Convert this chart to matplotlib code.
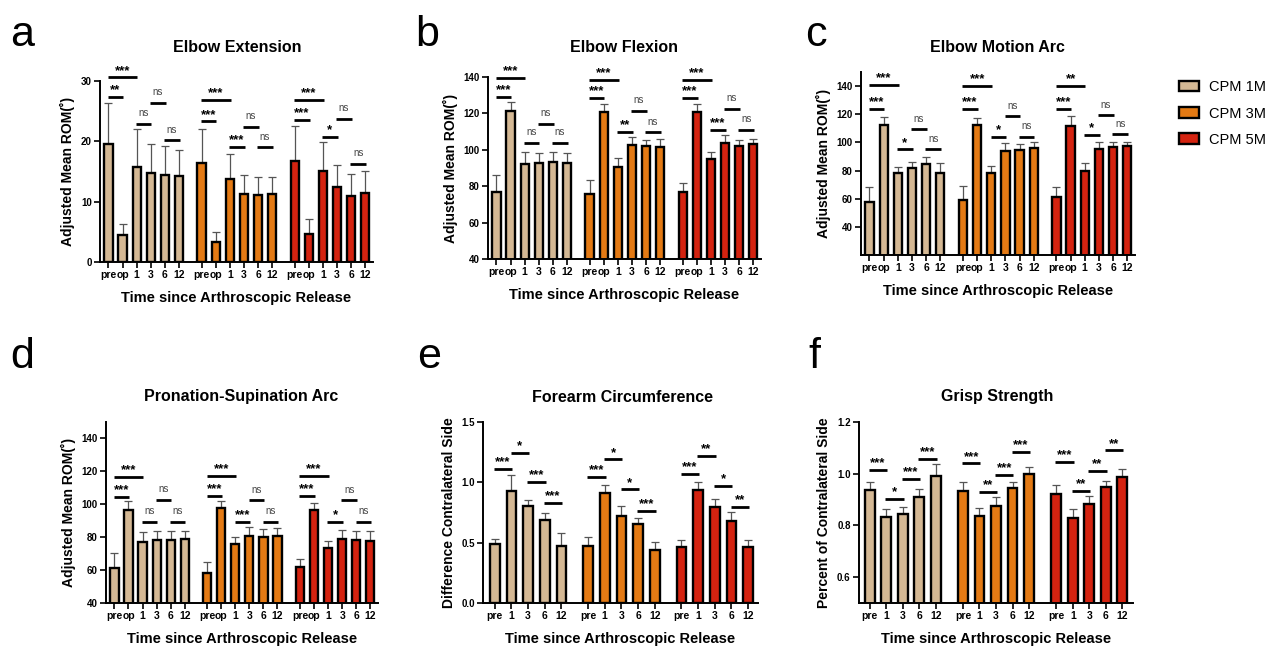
import matplotlib
matplotlib.use("Agg")
import matplotlib.pyplot as plt
from matplotlib.patches import Patch
import numpy as np

plt.rcParams['font.family'] = ['Liberation Sans', 'DejaVu Sans']

W, H = 1273, 649

groups = ["CPM 1M", "CPM 3M", "CPM 5M"]
colors = ["#D4B894", "#E47A14", "#D42310"]

labels6 = ["pre", "op", "1", "3", "6", "12"]
labels5 = ["pre", "1", "3", "6", "12"]

# ---- a: Elbow Extension ----
ext_mean = [[19.6, 4.4, 15.8, 14.7, 14.4, 14.2],
            [16.4, 3.3, 13.7, 11.2, 11.1, 11.3],
            [16.8, 4.6, 15.0, 12.4, 11.0, 11.4]]
ext_top = [[26.4, 6.3, 22.0, 19.5, 19.2, 18.5],
           [22.1, 4.9, 17.9, 14.5, 14.1, 14.1],
           [22.6, 7.1, 19.9, 16.1, 14.6, 15.0]]
ext_sig = [(0, 0, 1, 27.4, "**"), (0, 0, 2, 30.6, "***"), (0, 2, 3, 22.9, "ns"),
           (0, 3, 4, 26.4, "ns"), (0, 4, 5, 20.2, "ns"),
           (1, 0, 1, 23.3, "***"), (1, 0, 2, 26.9, "***"), (1, 2, 3, 19.1, "***"),
           (1, 3, 4, 22.4, "ns"), (1, 4, 5, 19.0, "ns"),
           (2, 0, 1, 23.5, "***"), (2, 0, 2, 26.9, "***"), (2, 2, 3, 20.8, "*"),
           (2, 3, 4, 23.7, "ns"), (2, 4, 5, 16.3, "ns")]

# ---- b: Elbow Flexion ----
flex_mean = [[77.0, 121.5, 92.0, 93.0, 93.5, 93.0],
             [75.5, 121.0, 90.5, 102.5, 102.0, 101.5],
             [77.0, 121.0, 95.0, 103.5, 102.0, 103.0]]
flex_top = [[86.0, 126.0, 99.0, 98.0, 99.0, 98.5],
            [83.5, 125.0, 95.5, 107.0, 105.5, 106.0],
            [82.0, 125.0, 99.0, 108.0, 105.5, 106.0]]
flex_sig = [(0, 0, 1, 129.0, "***"), (0, 0, 2, 139.5, "***"), (0, 2, 3, 104.0, "ns"),
            (0, 3, 4, 114.4, "ns"), (0, 4, 5, 104.0, "ns"),
            (1, 0, 1, 128.5, "***"), (1, 0, 2, 138.5, "***"), (1, 2, 3, 109.6, "**"),
            (1, 3, 4, 121.5, "ns"), (1, 4, 5, 109.6, "ns"),
            (2, 0, 1, 128.5, "***"), (2, 0, 2, 138.5, "***"), (2, 2, 3, 111.0, "***"),
            (2, 3, 4, 122.4, "ns"), (2, 4, 5, 111.0, "ns")]

# ---- c: Elbow Motion Arc ----
arc_mean = [[57.8, 112.7, 78.4, 82.0, 84.5, 78.4],
            [59.0, 112.7, 78.6, 94.0, 94.5, 96.0],
            [60.9, 111.3, 79.8, 95.5, 96.9, 97.3]]
arc_top = [[68.4, 117.7, 82.7, 86.2, 89.8, 85.5],
           [69.0, 117.0, 83.0, 99.7, 99.2, 100.0],
           [68.0, 118.7, 85.0, 100.0, 100.4, 100.0]]
arc_sig = [(0, 0, 1, 123.9, "***"), (0, 0, 2, 140.7, "***"), (0, 2, 3, 95.0, "*"),
           (0, 3, 4, 109.4, "ns"), (0, 4, 5, 95.2, "ns"),
           (1, 0, 1, 123.9, "***"), (1, 0, 2, 140.0, "***"), (1, 2, 3, 104.0, "*"),
           (1, 3, 4, 118.7, "ns"), (1, 4, 5, 104.0, "ns"),
           (2, 0, 1, 123.9, "***"), (2, 0, 2, 140.0, "**"), (2, 2, 3, 105.0, "*"),
           (2, 3, 4, 119.4, "ns"), (2, 4, 5, 105.9, "ns")]

# ---- d: Pronation-Supination Arc ----
ps_mean = [[61.1, 96.7, 77.0, 78.0, 78.5, 79.0],
           [58.0, 97.5, 76.0, 80.5, 80.0, 81.0],
           [62.0, 96.5, 73.5, 79.0, 78.0, 77.5]]
ps_top = [[70.2, 101.8, 82.9, 83.5, 83.5, 83.5],
          [65.0, 102.0, 80.0, 86.0, 85.0, 85.5],
          [67.0, 101.0, 77.5, 84.5, 84.0, 83.5]]
ps_sig = [(0, 0, 1, 104.4, "***"), (0, 0, 2, 116.5, "***"), (0, 2, 3, 89.3, "ns"),
          (0, 3, 4, 102.8, "ns"), (0, 4, 5, 89.3, "ns"),
          (1, 0, 1, 105.0, "***"), (1, 0, 2, 117.0, "***"), (1, 2, 3, 89.3, "***"),
          (1, 3, 4, 102.4, "ns"), (1, 4, 5, 89.3, "ns"),
          (2, 0, 1, 105.0, "***"), (2, 0, 2, 117.0, "***"), (2, 2, 3, 89.3, "*"),
          (2, 3, 4, 102.4, "ns"), (2, 4, 5, 89.3, "ns")]

# ---- e: Forearm Circumference ----
fc_mean = [[0.487, 0.93, 0.807, 0.685, 0.473],
           [0.476, 0.908, 0.724, 0.652, 0.443],
           [0.468, 0.939, 0.798, 0.680, 0.460]]
fc_top = [[0.53, 1.057, 0.853, 0.75, 0.583],
          [0.55, 0.98, 0.807, 0.707, 0.504],
          [0.523, 1.005, 0.862, 0.754, 0.523]]
fc_sig = [(0, 0, 1, 1.109, "***"), (0, 1, 2, 1.247, "*"), (0, 2, 3, 1.005, "***"), (0, 3, 4, 0.826, "***"),
          (1, 0, 1, 1.043, "***"), (1, 1, 2, 1.19, "*"), (1, 2, 3, 0.941, "*"), (1, 3, 4, 0.762, "***"),
          (2, 0, 1, 1.073, "***"), (2, 1, 2, 1.219, "**"), (2, 2, 3, 0.972, "*"), (2, 3, 4, 0.793, "**")]

# ---- f: Grisp Strength ----
gs_mean = [[0.937, 0.832, 0.846, 0.910, 0.992],
           [0.933, 0.837, 0.874, 0.944, 1.000],
           [0.922, 0.828, 0.881, 0.950, 0.988]]
gs_top = [[0.969, 0.864, 0.873, 0.940, 1.036],
          [0.969, 0.867, 0.910, 0.969, 1.027],
          [0.956, 0.864, 0.913, 0.973, 1.017]]
gs_sig = [(0, 0, 1, 1.014, "***"), (0, 1, 2, 0.903, "*"), (0, 2, 3, 0.979, "***"), (0, 3, 4, 1.058, "***"),
          (1, 0, 1, 1.040, "***"), (1, 1, 2, 0.930, "**"), (1, 2, 3, 0.995, "***"), (1, 3, 4, 1.083, "***"),
          (2, 0, 1, 1.044, "***"), (2, 1, 2, 0.933, "**"), (2, 2, 3, 1.010, "**"), (2, 3, 4, 1.090, "**")]

fig = plt.figure(figsize=(W / 100, H / 100), dpi=100)


def make_ax(l, r, t, b):
    return fig.add_axes([l / W, 1 - b / H, (r - l) / W, (b - t) / H])


def panel(ax, means, tops, sigs, labels, gstep, pad_l, pad_r, ylim, yticks,
          ylabel, ytickfmt):
    n = len(labels)
    xs_all, lab_all = [], []
    for g in range(3):
        x = np.arange(n) + g * gstep
        m = np.array(means[g])
        e = np.array(tops[g]) - m
        ax.bar(x, m, width=0.58, color=colors[g], edgecolor="black",
               linewidth=1.7, zorder=2)
        ax.errorbar(x, m, yerr=[np.zeros_like(e), e], fmt="none",
                    ecolor="#555555", elinewidth=0.9, capsize=2.6,
                    capthick=0.9, zorder=1)
        xs_all.extend(x)
        lab_all.extend(labels)
    for (g, i, j, y, s) in sigs:
        x1 = i + g * gstep
        x2 = j + g * gstep
        ax.plot([x1 - 0.05, x2 + 0.05], [y, y], color="black", lw=2.0,
                clip_on=False, solid_capstyle="butt", zorder=3)
        if s == "ns":
            ax.annotate(s, ((x1 + x2) / 2, y), xytext=(0, 4),
                        textcoords="offset points", ha="center", va="bottom",
                        fontsize=7, color="#444444", annotation_clip=False)
        else:
            ax.annotate(s, ((x1 + x2) / 2, y), xytext=(0, 0.5),
                        textcoords="offset points", ha="center", va="bottom",
                        fontsize=9.5, fontweight="bold", color="black",
                        annotation_clip=False)
    ax.set_xlim(-pad_l, 2 * gstep + n - 1 + pad_r)
    ax.set_ylim(*ylim)
    ax.set_yticks(yticks)
    ax.set_yticklabels([ytickfmt.format(v) for v in yticks],
                       fontsize=7, fontweight="bold")
    ax.set_xticks(xs_all)
    ax.set_xticklabels(lab_all, fontsize=7.5, fontweight="bold")
    ax.spines["top"].set_visible(False)
    ax.spines["right"].set_visible(False)
    ax.spines["left"].set_linewidth(1.4)
    ax.spines["bottom"].set_linewidth(1.4)
    ax.tick_params(axis="both", width=1.2, length=4, pad=2)
    ax.set_ylabel(ylabel, fontsize=10, fontweight="bold", labelpad=4)
    ax.set_xlabel("Time since Arthroscopic Release", fontsize=10.5,
                  fontweight="bold", labelpad=8)


ax_a = make_ax(100, 373, 81, 262)
panel(ax_a, ext_mean, ext_top, ext_sig, labels6, 6.6, 0.6, 0.55, (0, 30),
      [0, 10, 20, 30], "Adjusted Mean ROM(˚)", "{:.0f}")

ax_b = make_ax(488, 761, 77, 259)
panel(ax_b, flex_mean, flex_top, flex_sig, labels6, 6.6, 0.6, 0.55, (40, 140),
      [40, 60, 80, 100, 120, 140], "Adjusted Mean ROM(˚)", "{:.0f}")

ax_c = make_ax(861, 1135, 72, 255)
panel(ax_c, arc_mean, arc_top, arc_sig, labels6, 6.6, 0.6, 0.55, (20, 150),
      [40, 60, 80, 100, 120, 140], "Adjusted Mean ROM(˚)", "{:.0f}")

ax_d = make_ax(106, 378, 422, 603)
panel(ax_d, ps_mean, ps_top, ps_sig, labels6, 6.6, 0.6, 0.55, (40, 150),
      [40, 60, 80, 100, 120, 140], "Adjusted Mean ROM(˚)", "{:.0f}")

ax_e = make_ax(483, 758, 422, 603)
panel(ax_e, fc_mean, fc_top, fc_sig, labels5, 5.6, 0.7, 0.6, (0, 1.5),
      [0.0, 0.5, 1.0, 1.5], "Difference Contralateral Side", "{:.1f}")

ax_f = make_ax(859, 1133, 422, 603)
panel(ax_f, gs_mean, gs_top, gs_sig, labels5, 5.65, 0.65, 0.65, (0.5, 1.2),
      [0.6, 0.8, 1.0, 1.2], "Percent of Contralateral Side", "{:.1f}")

titles = ["Elbow Extension", "Elbow Flexion", "Elbow Motion Arc",
          "Pronation-Supination Arc", "Forearm Circumference", "Grisp Strength"]
title_pos = [(237, 48), (624, 48), (997, 48), (241, 397), (622, 397), (997, 397)]
for t, (cx, cy) in zip(titles, title_pos):
    fig.text(cx / W, 1 - cy / H, t, fontsize=11.5, fontweight="bold",
             ha="center", va="center")

for s, x, y in [("a", 10, 46), ("b", 415, 46), ("c", 805, 46),
                ("d", 10, 368), ("e", 417, 368), ("f", 808, 368)]:
    fig.text(x / W, 1 - y / H, s, fontsize=31, ha="left", va="baseline")

handles = [Patch(facecolor=c, edgecolor="black", linewidth=1.7) for c in colors]
fig.legend(handles, groups, loc="upper left",
           bbox_to_anchor=(1166 / W, 1 - 67 / H), frameon=False, fontsize=10.5,
           handlelength=1.35, handleheight=0.75, labelspacing=0.85,
           handletextpad=0.7)

fig.savefig("out.png", dpi=100)
